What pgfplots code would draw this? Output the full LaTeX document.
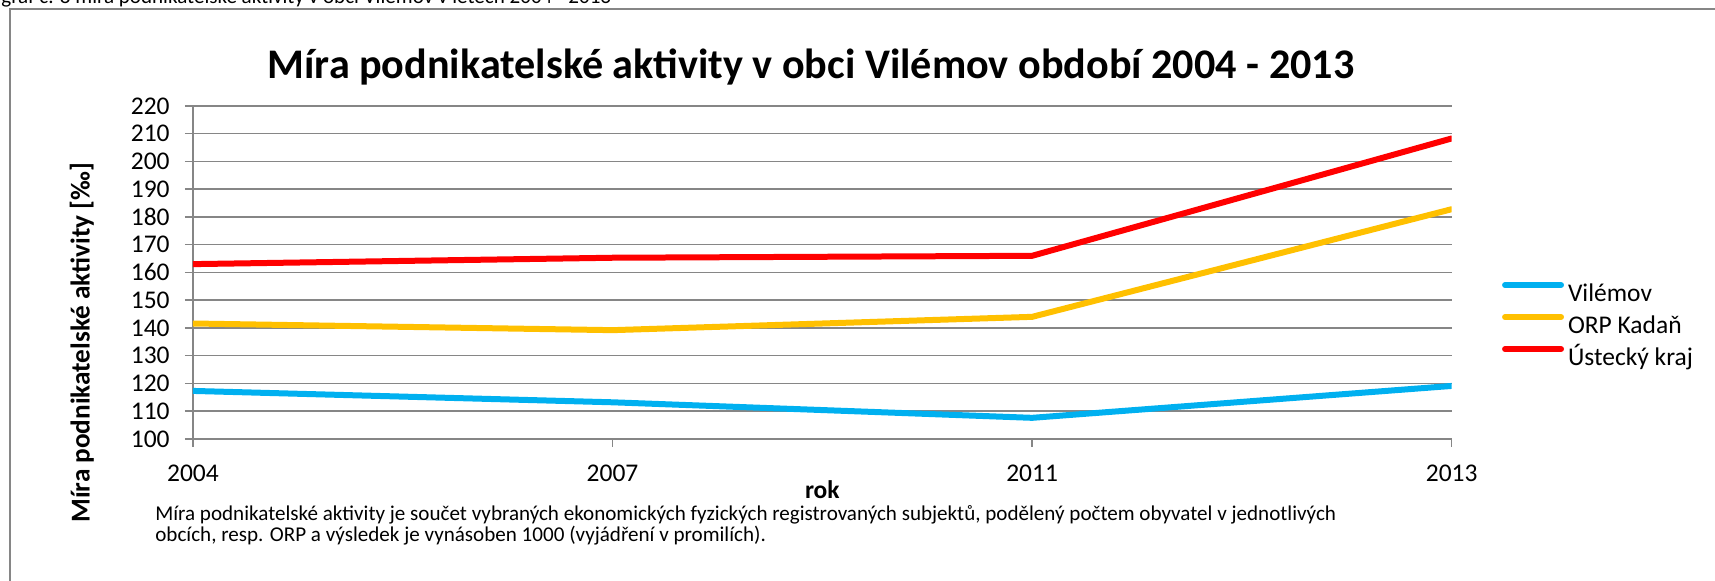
\documentclass[border=0pt]{standalone}
\usepackage{fontspec}
\setmainfont{Carlito}
\usepackage{pgfplots}
\pgfplotsset{compat=1.18}

\definecolor{vilemov}{HTML}{00B0F0}
\definecolor{kadan}{HTML}{FFC000}
\definecolor{ustecky}{HTML}{FF0000}
\definecolor{gridgray}{HTML}{868686}

\begin{document}
\begin{tikzpicture}[x=0.02cm,y=-0.02cm]
% outer frame (runs past the right and bottom edge)
\draw[gridgray, line width=0.04cm] (10,9) rectangle (1760,620);
\node[anchor=base west, inner sep=0pt, font=\fontsize{12}{14}\selectfont] at (1,4)
  {graf č. 8 míra podnikatelské aktivity v obci Vilémov v letech 2004 - 2013};

\node[anchor=base, inner sep=0pt, font=\bfseries\fontsize{24}{28}\selectfont] at (811,79)
  {Míra podnikatelské aktivity v obci Vilémov období 2004 - 2013};

\begin{axis}[
    at={(3.86cm,-8.78cm)}, anchor=south west,
    scale only axis,
    width=25.18cm, height=6.66cm,
    xmin=0, xmax=3,
    ymin=100, ymax=220,
    xtick={0,1,2,3},
    xticklabels={2004,2007,2011,2013},
    ytick distance=10,
    /pgf/number format/assume math mode=true,
    axis x line*=bottom,
    axis y line*=left,
    axis line style={draw=gridgray, line width=0.03cm, -},
    ymajorgrids,
    major grid style={draw=gridgray, line width=0.03cm},
    tick style={draw=gridgray, line width=0.03cm},
    tick align=outside,
    major tick length=0.16cm,
    tick label style={font=\fontsize{14.5}{17}\selectfont},
    yticklabel style={anchor=east, inner sep=0pt, xshift=-0.3cm},
    xticklabel style={anchor=center, inner sep=0pt, yshift=-0.52cm},
    xlabel={rok},
    ylabel={Míra podnikatelské aktivity [‰]},
    every axis x label/.style={at={(axis description cs:0.5,0)}, anchor=center,
        yshift=-1.02cm, inner sep=0pt, font=\bfseries\fontsize{14.5}{17}\selectfont},
    every axis y label/.style={at={(axis description cs:-0.0882,-0.2523)}, rotate=90,
        anchor=west, inner sep=0pt, font=\bfseries\fontsize{15.5}{18}\selectfont},
    every axis plot/.append style={line width=0.12cm, line cap=round, line join=round},
    legend image code/.code={\draw[#1] (0cm,0.165cm) -- (1.12cm,0.165cm);},
    legend style={draw=none, fill=none, at={(1.0397,0.4865)}, anchor=north west,
        inner sep=0pt, column sep=0.08cm,
        font=\fontsize{14.5}{17}\selectfont,
        nodes={inner sep=0pt, text height=0.485cm, text depth=0.155cm}},
    legend cell align=left,
]
\addplot[vilemov] coordinates {(0,117.3) (1,113.2) (2,107.6) (3,119.1)};
\addlegendentry{Vilémov}
\addplot[kadan] coordinates {(0,141.6) (1,139.2) (2,144.0) (3,182.8)};
\addlegendentry{ORP Kadaň}
\addplot[ustecky] coordinates {(0,163.0) (1,165.3) (2,166.0) (3,208.3)};
\addlegendentry{Ústecký kraj}
\end{axis}

% footnote: base anchor of a two-line node is the baseline of its last line
\node[anchor=base west, inner sep=0pt, align=left, font=\fontsize{12}{10.2}\selectfont] at (155,541)
  {Míra podnikatelské aktivity je součet vybraných ekonomických fyzických registrovaných subjektů, podělený počtem obyvatel v jednotlivých\\
   obcích, resp. ORP a výsledek je vynásoben 1000 (vyjádření v promilích).};

\pgfresetboundingbox
\path[use as bounding box] (0,0) rectangle (1715,581);
\end{tikzpicture}
\end{document}
